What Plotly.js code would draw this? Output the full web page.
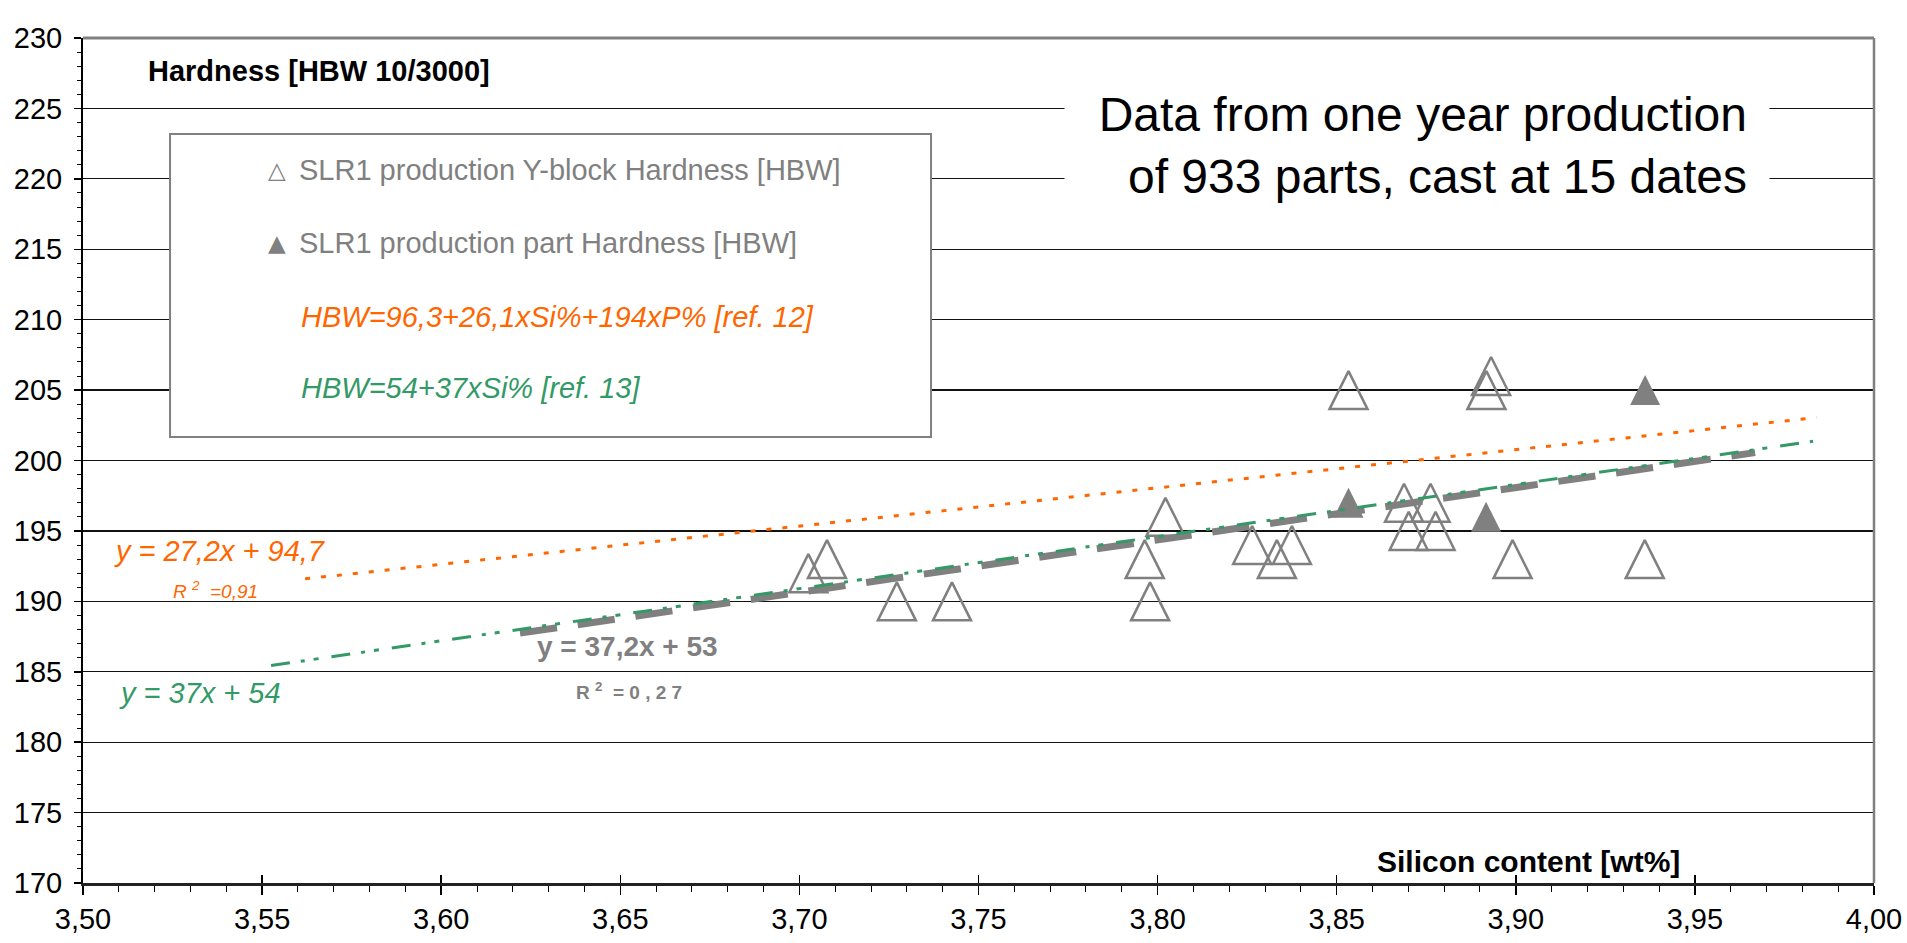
<!DOCTYPE html>
<html><head><meta charset="utf-8">
<script src="https://cdn.plot.ly/plotly-3.0.1.min.js"></script>
<style>html,body{margin:0;padding:0;background:#fff;}#chart{width:1907px;height:943px;}</style>
</head><body><div id="chart"></div>
<script>
const FONT = 'Liberation Sans, Arial, Helvetica, sans-serif';
const GRAY = '#808080', ORANGE = '#FF6600', GREEN = '#339966';

// SLR1 production Y-block hardness (hollow triangles)
const yblockSi  = [3.7025, 3.7077, 3.7272, 3.7426, 3.7964, 3.7979, 3.8022, 3.8264, 3.8333, 3.8375,
                   3.8533, 3.8688, 3.8701, 3.8762, 3.8776, 3.8918, 3.8931, 3.8991, 3.9360];
const yblockHBW = [192, 193, 190, 190, 193, 190, 196, 194, 193, 194,
                   205, 197, 195, 197, 195, 205, 206, 193, 193];
// SLR1 production part hardness (filled triangles)
const partSi  = [3.8533, 3.8917, 3.9361];
const partHBW = [197, 196, 205];
// Reference lines (end points)
const ref12Si = [3.562, 3.984];   const ref12HBW = [191.6, 203.05];
const ref13Si = [3.5525, 3.983];  const ref13HBW = [185.44, 201.37];
const trendSi = [3.622, 3.9668];  const trendHBW = [187.74, 200.56];
// Axis ticks
const xTickVals = [3.50, 3.55, 3.60, 3.65, 3.70, 3.75, 3.80, 3.85, 3.90, 3.95, 4.00];
const xTickText = ['3,50','3,55','3,60','3,65','3,70','3,75','3,80','3,85','3,90','3,95','4,00'];
const yTickVals = [170,175,180,185,190,195,200,205,210,215,220,225,230];
const yTickText = yTickVals.map(String);
// Texts
const legendItems = [
  {glyph: '\u25B3', text: 'SLR1 production Y-block Hardness [HBW]', color: GRAY, italic: false},
  {glyph: '\u25B2', text: 'SLR1 production part Hardness [HBW]', color: GRAY, italic: false},
  {glyph: '', text: 'HBW=96,3+26,1xSi%+194xP% [ref. 12]', color: ORANGE, italic: true},
  {glyph: '', text: 'HBW=54+37xSi% [ref. 13]', color: GREEN, italic: true}
];
const legendY = [0.8438, 0.7574, 0.6698, 0.5858];

const traces = [
  {type:'scatter', mode:'markers', name:'SLR1 production Y-block Hardness [HBW]',
   x: yblockSi, y: yblockHBW, cliponaxis:false,
   marker:{symbol:'arrow-down-open', angle:180, standoff:19, size:38, color:GRAY, line:{width:2.5, color:GRAY}}},
  {type:'scatter', mode:'markers', name:'SLR1 production part Hardness [HBW]',
   x: partSi, y: partHBW, cliponaxis:false,
   marker:{symbol:'arrow-down', angle:180, standoff:15, size:30, color:GRAY, line:{width:0}}},
  {type:'scatter', mode:'lines', name:'trend', x: trendSi, y: trendHBW,
   line:{color:GRAY, width:7, dash:'37.4px,20.9px'}},
  {type:'scatter', mode:'lines', name:'ref12', x: ref12Si, y: ref12HBW, xaxis:'x2',
   line:{color:ORANGE, width:3, dash:'5px,11px'}},
  {type:'scatter', mode:'lines', name:'ref13', x: ref13Si, y: ref13HBW,
   line:{color:GREEN, width:3, dash:'19px,11px,4px,9px,5px,13px'}}
];

const annotations = [];
function ann(o){ annotations.push(Object.assign({xref:'paper', yref:'paper', showarrow:false, xanchor:'left', yanchor:'middle'}, o)); }

ann({x:0.0352, y:0.9609, text:'<b>Hardness [HBW 10/3000]</b>', font:{family:FONT, size:29, color:'#000'}});
ann({x:0.7214, y:0.026, text:'<b>Silicon content [wt%]</b>', font:{family:FONT, size:30, color:'#000'}});
ann({xref:'x', yref:'y', x:3.8725, y:222.4, xanchor:'center', text:'Data from one year production<br>of 933 parts, cast at 15 dates',
     align:'right', width:660, borderpad:22, bgcolor:'#ffffff', font:{family:FONT, size:48, color:'#000'}});

legendItems.forEach((it, i) => {
  if (it.glyph) ann({x:0.1083, y:legendY[i], xanchor:'center', text:it.glyph, font:{family:'DejaVu Sans, '+FONT, size:23, color:it.color}});
  ann({x: it.italic ? 0.1206 : 0.1195, y:legendY[i], text: it.italic ? '<i>'+it.text+'</i>' : it.text,
       font:{family:FONT, size:29, color:it.color}});
});

const NB = '\u00a0';
ann({x:0.0162, y:0.3929, text:'<i>y = 27,2x + 94,7</i>', font:{family:FONT, size:29, color:ORANGE}});
ann({x:0.0491, y:0.3467, text:'<i>R '+'<sup>2</sup>'+NB+NB+'=0,91</i>', font:{family:FONT, size:19, color:ORANGE}});
ann({x:0.0190, y:0.2249, text:'<i>y = 37x + 54</i>', font:{family:FONT, size:29, color:GREEN}});
ann({x:0.2522, y:0.2793, text:'<b>y = 37,2x + 53</b>', font:{family:FONT, size:28, color:GRAY}});
ann({x:0.2741, y:0.2272, text:'<b>R <sup>2</sup>'+NB+NB+'= 0 , 2 7</b>', font:{family:FONT, size:19, color:GRAY}});

const shapes = [
  {type:'rect', xref:'paper', yref:'paper', x0:0.0486, x1:0.4735, y0:0.5278, y1:0.8864,
   fillcolor:'#ffffff', line:{color:GRAY, width:2}, layer:'above'},
  {type:'line', xref:'paper', yref:'paper', x0:0, x1:1, y0:1, y1:1, line:{color:GRAY, width:3}, layer:'above'},
  {type:'line', xref:'paper', yref:'paper', x0:1, x1:1, y0:0, y1:1, line:{color:GRAY, width:2.5}, layer:'above'}
];

const layout = {
  width:1907, height:943, autosize:false,
  margin:{l:83, r:33, t:38, b:60, pad:0},
  paper_bgcolor:'#fff', plot_bgcolor:'#fff',
  showlegend:false,
  font:{family:FONT, size:29, color:'#000'},
  xaxis:{range:[3.5, 4.0], tickmode:'array', tickvals:xTickVals, ticktext:xTickText,
         ticks:'outside', ticklen:9, tickwidth:1.5, tickcolor:'#000',
         showgrid:false, zeroline:false, showline:true, linecolor:'#222', linewidth:2.5,
         tickfont:{family:FONT, size:29, color:'#000'}, ticklabelstandoff:0,
         minor:{tickmode:'linear', tick0:3.5, dtick:0.01, ticks:'outside', ticklen:6, tickwidth:1, tickcolor:'#000', showgrid:false}},
  xaxis2:{overlaying:'x', matches:'x', anchor:'y', side:'bottom', range:[3.5, 4.0],
          tickmode:'array', tickvals:xTickVals, ticks:'inside', ticklen:8, tickwidth:1.5, tickcolor:'#000',
          showticklabels:false, showgrid:false, zeroline:false, showline:false},
  yaxis:{range:[170, 230], tickmode:'array', tickvals:yTickVals, ticktext:yTickText,
         ticks:'outside', ticklen:7, tickwidth:1.5, tickcolor:'#000',
         showgrid:true, gridcolor:'#111', gridwidth:1.3, zeroline:false,
         showline:true, linecolor:'#000', linewidth:2,
         tickfont:{family:FONT, size:29, color:'#000'}, ticklabelstandoff:6,
         minor:{tickmode:'linear', tick0:170, dtick:1, ticks:'outside', ticklen:4, tickwidth:1, tickcolor:'#000', showgrid:false}},
  annotations: annotations,
  shapes: shapes
};

Plotly.newPlot('chart', traces, layout, {staticPlot:true, displayModeBar:false});
</script>
</body></html>
